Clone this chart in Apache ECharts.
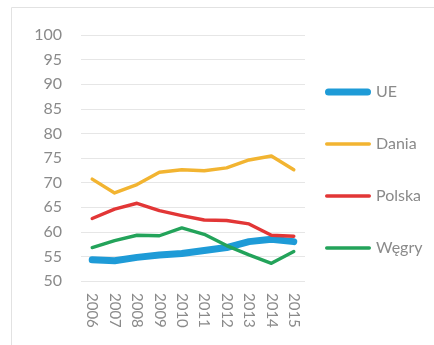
<!DOCTYPE html>
<html>
<head>
<meta charset="utf-8">
<script src="https://cdn.jsdelivr.net/npm/echarts@6/dist/echarts.min.js"></script>
<style>
  html, body { margin: 0; padding: 0; background: #fff; }
  #chart { width: 434px; height: 345px; }
</style>
</head>
<body>
<div id="chart"></div>
<script>
// Years on the category axis
var years = ['2006', '2007', '2008', '2009', '2010', '2011', '2012', '2013', '2014', '2015'];

// Series values
var ue     = [54.3, 54.1, 54.8, 55.3, 55.6, 56.2, 56.8, 58.0, 58.5, 58.0];
var dania  = [70.7, 67.9, 69.6, 72.1, 72.6, 72.4, 73.0, 74.6, 75.4, 72.6];
var polska = [62.7, 64.6, 65.8, 64.3, 63.3, 62.4, 62.3, 61.6, 59.3, 59.1];
var wegry  = [56.8, 58.2, 59.3, 59.2, 60.8, 59.5, 57.2, 55.3, 53.6, 56.0];

var seriesNames = ['UE', 'Dania', 'Polska', 'Węgry'];

// Legend swatches: rounded bars inside a fixed 46x14 box (the moveTo points pin the box)
var thickIcon = 'path://M0,0M46,14M3.5,3.5h39a3.5,3.5 0 0 1 0,7h-39a3.5,3.5 0 0 1 0,-7z';
var thinIcon  = 'path://M0,0M46,14M1.7,5.3h42.6a1.7,1.7 0 0 1 0,3.4h-42.6a1.7,1.7 0 0 1 0,-3.4z';

var chart = echarts.init(document.getElementById('chart'), null, { renderer: 'canvas' });

function lineSeries(name, data, color, width, z) {
  return {
    name: name,
    type: 'line',
    data: data,
    symbol: 'none',
    z: z,
    lineStyle: { color: color, width: width, cap: 'round', join: 'round' },
    itemStyle: { color: color }
  };
}

chart.setOption({
  animation: false,
  textStyle: { fontFamily: 'Lato' },
  graphic: [{
    type: 'rect',
    shape: { x: 11.5, y: 7.5, width: 800, height: 800 },
    style: { fill: 'none', stroke: '#e2e2e2', lineWidth: 1 },
    silent: true
  }],
  grid: { left: 81, right: 129, top: 35, bottom: 64 },
  legend: {
    orient: 'vertical',
    left: 320,
    top: 79,
    itemWidth: 46,
    itemHeight: 14,
    itemGap: 36,
    data: seriesNames.map(function (n, i) {
      return { name: n, icon: i === 0 ? thickIcon : thinIcon };
    }),
    textStyle: { color: '#8a8a8a', fontSize: 16, lineHeight: 16, fontFamily: 'Lato' }
  },
  xAxis: {
    type: 'category',
    data: years,
    boundaryGap: true,
    axisLine: { show: false },
    axisTick: { show: false },
    axisLabel: { rotate: -90, color: '#8a8a8a', fontSize: 15, margin: 12, fontFamily: 'Lato' }
  },
  yAxis: {
    type: 'value',
    min: 50,
    max: 100,
    interval: 5,
    axisLine: { show: false },
    axisTick: { show: false },
    axisLabel: { color: '#8a8a8a', fontSize: 16, margin: 19, fontFamily: 'Lato' },
    splitLine: { lineStyle: { color: '#e6e6e6', width: 1 } }
  },
  series: [
    lineSeries('UE', ue, '#1e9bd7', 7, 2),
    lineSeries('Dania', dania, '#f2b431', 3.4, 3),
    lineSeries('Polska', polska, '#e23636', 3.4, 3),
    lineSeries('Węgry', wegry, '#23a35a', 3.4, 4)
  ]
});
</script>
</body>
</html>
